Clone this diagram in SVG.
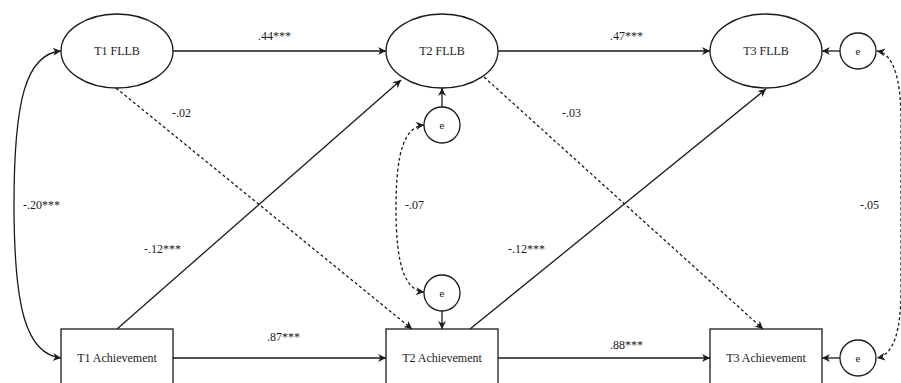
<svg xmlns="http://www.w3.org/2000/svg" width="901" height="383" viewBox="0 0 901 383">
  <defs>
    <marker id="arr" viewBox="0 0 10 10" refX="10" refY="5" markerWidth="9" markerHeight="8" markerUnits="userSpaceOnUse" orient="auto-start-reverse">
      <path d="M0,0 L10,5 L0,10 L3,5 z" fill="#1a1a1a"/>
    </marker>
  </defs>
  <style>
    .node { fill: #fff; stroke: #1a1a1a; stroke-width: 1.3; }
    .lbl { font-family: "Liberation Serif", "Times New Roman", serif; font-size: 12px; fill: #1a1a1a; }
    .nt { font-family: "Liberation Serif", "Times New Roman", serif; font-size: 12px; fill: #1a1a1a; text-anchor: middle; }
    .et { font-family: "Liberation Serif", "Times New Roman", serif; font-size: 11px; fill: #1a1a1a; text-anchor: middle; }
    .path { fill: none; stroke: #1a1a1a; stroke-width: 1.3; marker-end: url(#arr); }
    .dash { stroke-dasharray: 3 2.5; }
    .both { marker-start: url(#arr); }
  </style>
  <rect width="901" height="383" fill="#fff"/>

  <!-- connectors -->
  <g id="connectors">
    <!-- autoregressive paths -->
    <line class="path" x1="173" y1="51" x2="386" y2="51"/>
    <line class="path" x1="498" y1="51" x2="710" y2="51"/>
    <line class="path" x1="173" y1="358" x2="386" y2="358"/>
    <line class="path" x1="498" y1="358" x2="710" y2="358"/>
    <!-- cross-lagged paths -->
    <line class="path" x1="117" y1="329" x2="401" y2="80"/>
    <line class="path" x1="470" y1="329" x2="766" y2="89"/>
    <line class="path dash" x1="116" y1="88" x2="412" y2="329"/>
    <line class="path dash" x1="484" y1="77" x2="763" y2="329"/>
    <!-- residual paths -->
    <line class="path" x1="442" y1="107" x2="442" y2="88"/>
    <line class="path" x1="442" y1="311" x2="442" y2="329"/>
    <line class="path" x1="840" y1="51" x2="822" y2="51"/>
    <line class="path" x1="840" y1="358" x2="822" y2="358"/>
    <!-- covariances -->
    <path class="path both" d="M61,51 C26,54 14,100 14,204 C14,308 26,354 61,358"/>
    <path class="path both dash" d="M424,125 C405,127 396,150 396,208 C396,266 405,290 424,292"/>
    <path class="path both dash" d="M877,51 C894,54 901,80 901,120 L901,290 C901,330 894,355 877,358"/>
  </g>

  <!-- path estimates -->
  <g id="estimates">
    <text class="lbl" x="258" y="40">.44***</text>
    <text class="lbl" x="610" y="40">.47***</text>
    <text class="lbl" x="172" y="117">-.02</text>
    <text class="lbl" x="562" y="117">-.03</text>
    <text class="lbl" x="23" y="209">-.20***</text>
    <text class="lbl" x="405" y="209">-.07</text>
    <text class="lbl" x="860" y="209">-.05</text>
    <text class="lbl" x="144" y="253">-.12***</text>
    <text class="lbl" x="508" y="253">-.12***</text>
    <text class="lbl" x="267" y="341">.87***</text>
    <text class="lbl" x="610" y="349">.88***</text>
  </g>

  <g id="t1-fllb">
    <ellipse class="node" cx="117" cy="51" rx="56" ry="37"/>
    <text class="nt" x="117" y="55">T1 FLLB</text>
  </g>
  <g id="t2-fllb">
    <ellipse class="node" cx="442" cy="51" rx="56" ry="37"/>
    <text class="nt" x="442" y="55">T2 FLLB</text>
  </g>
  <g id="t3-fllb">
    <ellipse class="node" cx="766" cy="51" rx="56" ry="37"/>
    <text class="nt" x="766" y="55">T3 FLLB</text>
  </g>

  <g id="t1-achievement">
    <rect class="node" x="61" y="329" width="112" height="60"/>
    <text class="nt" x="117" y="362">T1 Achievement</text>
  </g>
  <g id="t2-achievement">
    <rect class="node" x="386" y="329" width="112" height="60"/>
    <text class="nt" x="442" y="362">T2 Achievement</text>
  </g>
  <g id="t3-achievement">
    <rect class="node" x="710" y="329" width="112" height="60"/>
    <text class="nt" x="766" y="362">T3 Achievement</text>
  </g>

  <g id="e-t2-fllb">
    <circle class="node" cx="442" cy="125" r="18"/>
    <text class="et" x="442" y="129">e</text>
  </g>
  <g id="e-t2-achievement">
    <circle class="node" cx="442" cy="293" r="18"/>
    <text class="et" x="442" y="297">e</text>
  </g>
  <g id="e-t3-fllb">
    <circle class="node" cx="858" cy="51" r="18"/>
    <text class="et" x="858" y="55">e</text>
  </g>
  <g id="e-t3-achievement">
    <circle class="node" cx="858" cy="358" r="18"/>
    <text class="et" x="858" y="362">e</text>
  </g>
</svg>
